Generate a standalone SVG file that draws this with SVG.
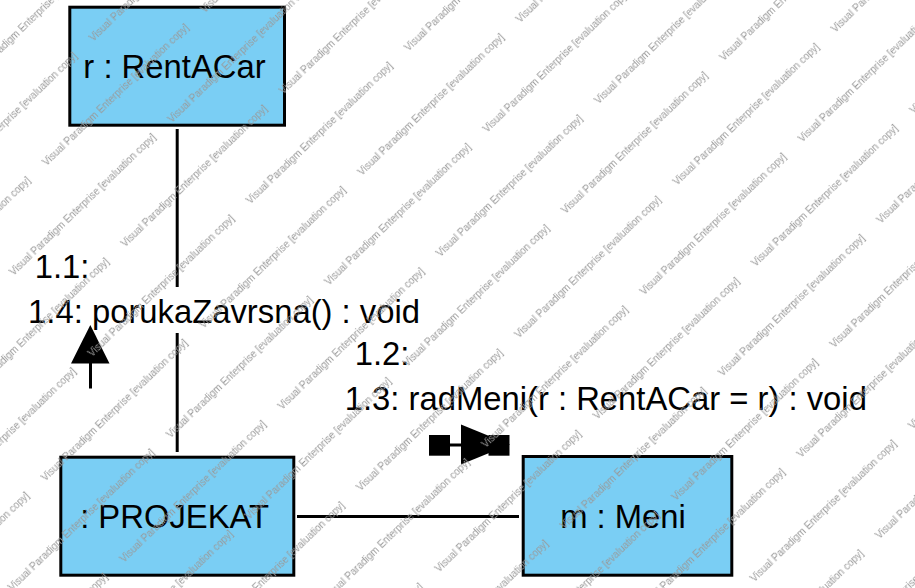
<svg xmlns="http://www.w3.org/2000/svg" width="915" height="588" viewBox="0 0 915 588">
<style>
.node{fill:#7ACEF4;stroke:#000;stroke-width:3}
.lbl{font-family:"Liberation Sans",Arial,sans-serif;font-size:32.8px;fill:#000}
.ctr{text-anchor:middle}
.ln{stroke:#000;stroke-width:3;fill:none}
.wm{font-family:"Liberation Sans",Arial,sans-serif;font-size:10px;fill:#999}
</style>
<defs>
<pattern id="wmp" patternUnits="userSpaceOnUse" width="220" height="113" patternTransform="rotate(-44)">
<text class="wm" x="138" y="38.8">Visual Paradigm Enterprise [evaluation copy]</text>
<text class="wm" x="-82" y="38.8">Visual Paradigm Enterprise [evaluation copy]</text>
<text class="wm" x="38" y="95.3">Visual Paradigm Enterprise [evaluation copy]</text>
<text class="wm" x="-182" y="95.3">Visual Paradigm Enterprise [evaluation copy]</text>
</pattern>
</defs>
<rect width="915" height="588" fill="#fff"/>
<g id="connectors">
<line class="ln" x1="177.2" y1="129" x2="177.2" y2="287"/>
<line class="ln" x1="177.2" y1="333" x2="177.2" y2="452"/>
<line class="ln" x1="297" y1="516.5" x2="519" y2="516.5"/>
<g id="msg-up">
<polygon points="90.3,325 71,363.5 109.5,363.5" fill="#000"/>
<line class="ln" x1="90.5" y1="363" x2="90.5" y2="388.5"/>
</g>
<g id="msg-right">
<rect x="429" y="435" width="21" height="20.7" fill="#000"/>
<line class="ln" x1="450" y1="445" x2="462" y2="445"/>
<polygon points="461,424.5 461,464.5 510,444.5" fill="#000"/>
<rect x="488.5" y="435" width="21" height="20.7" fill="#000"/>
</g>
<text class="lbl" x="34.7" y="278.3">1.1:</text>
<text class="lbl" x="28.1" y="323.3">1.4: porukaZavrsna() : void</text>
<text class="lbl" x="354.7" y="365">1.2:</text>
<text class="lbl" x="344.7" y="410">1.3: radMeni(r : RentACar = r) : void</text>
</g>
<g id="rentacar">
<rect class="node" x="69.8" y="7.2" width="214.7" height="118"/>
<text class="lbl ctr" x="174.5" y="78.3">r : RentACar</text>
</g>
<g id="projekat">
<rect class="node" x="60.8" y="457.2" width="233" height="118"/>
<text class="lbl ctr" x="174.6" y="528.3">: PROJEKAT</text>
</g>
<g id="meni">
<rect class="node" x="523.2" y="456.5" width="208.6" height="118.7"/>
<text class="lbl ctr" x="623" y="528.3">m : Meni</text>
</g>
<rect id="watermark" width="915" height="588" fill="url(#wmp)"/>
</svg>
